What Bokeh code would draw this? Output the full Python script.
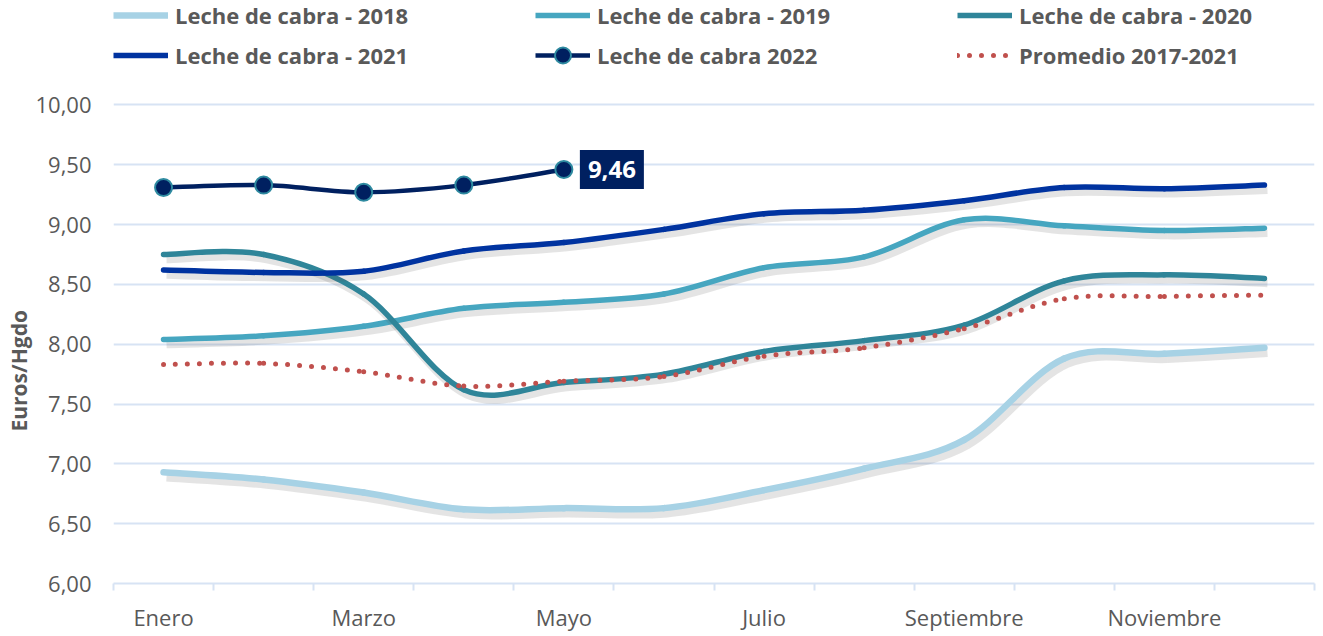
import numpy as np
from bokeh.plotting import figure
from bokeh.models import (Range1d, FixedTicker, CustomJSTickFormatter, Legend, LegendItem,
                          Label, ColumnDataSource, Title)
from bokeh.transform import dodge
from bokeh.embed import file_html
from bokeh.resources import INLINE

# ---------------- data ----------------
months = ["Enero", "Febrero", "Marzo", "Abril", "Mayo", "Junio", "Julio",
          "Agosto", "Septiembre", "Octubre", "Noviembre", "Diciembre"]
leche_2018 = [6.93, 6.87, 6.76, 6.62, 6.63, 6.63, 6.78, 6.96, 7.20, 7.88, 7.92, 7.97]
leche_2019 = [8.04, 8.07, 8.15, 8.30, 8.35, 8.42, 8.64, 8.73, 9.04, 8.99, 8.95, 8.97]
leche_2020 = [8.75, 8.75, 8.42, 7.62, 7.68, 7.75, 7.94, 8.03, 8.16, 8.53, 8.58, 8.55]
leche_2021 = [8.62, 8.60, 8.61, 8.78, 8.85, 8.96, 9.09, 9.12, 9.20, 9.31, 9.30, 9.33]
leche_2022 = [9.31, 9.33, 9.27, 9.33, 9.46]
promedio = [7.83, 7.84, 7.77, 7.65, 7.69, 7.73, 7.90, 7.97, 8.13, 8.38, 8.40, 8.41]
y_ticks = [6.0, 6.5, 7.0, 7.5, 8.0, 8.5, 9.0, 9.5, 10.0]
labels = ["Leche de cabra - 2018", "Leche de cabra - 2019", "Leche de cabra - 2020",
          "Leche de cabra - 2021", "Leche de cabra 2022", "Promedio 2017-2021"]

C18, C19, C20, C21, C22, CPR = "#A7D2E5", "#46A6C0", "#2F8599", "#0033A0", "#002060", "#C0504D"
GRID = "#D7E3F4"
TXT = "#595959"
FONT = "Open Sans"
DOT = "0 12"

# layout: axis 6..10 occupies 481 px; 105 px of headroom above it holds the legend
PLOT_PX, HEAD_PX = 481, 105


def smooth_source(ys):
    """Cubic Bezier segments (Excel-like smoothing) through the data points."""
    xs = np.arange(len(ys), dtype=float)
    ys = np.asarray(ys, dtype=float)
    n = len(ys)
    xp = np.concatenate([[xs[0]], xs, [xs[-1]]])
    yp = np.concatenate([[ys[0]], ys, [ys[-1]]])
    t = 1.0 / 6.0
    return ColumnDataSource(dict(
        x0=xs[:-1], y0=ys[:-1], x1=xs[1:], y1=ys[1:],
        cx0=xs[:-1] + (xp[2:n + 1] - xp[0:n - 1]) * t,
        cy0=ys[:-1] + (yp[2:n + 1] - yp[0:n - 1]) * t,
        cx1=xs[1:] - (xp[3:n + 2] - xp[1:n]) * t,
        cy1=ys[1:] - (yp[3:n + 2] - yp[1:n]) * t,
    ))


y0, y1 = y_ticks[0], y_ticks[-1]
p = figure(width=1316, height=634, output_backend="svg", toolbar_location=None,
           x_range=Range1d(-0.5, len(months) - 0.5),
           y_range=Range1d(y0, y1 + (y1 - y0) * HEAD_PX / PLOT_PX),
           min_border_left=113, min_border_right=2, min_border_top=0, min_border_bottom=48,
           title=None)
p.outline_line_color = None
p.background_fill_color = "white"

# axes
p.yaxis.ticker = FixedTicker(ticks=y_ticks)
p.yaxis.formatter = CustomJSTickFormatter(code="return tick.toFixed(2).replace('.', ',');")
p.yaxis.axis_line_color = None
p.yaxis.major_tick_line_color = None
p.yaxis.minor_tick_line_color = None
p.yaxis.major_label_standoff = 16
p.yaxis.major_label_text_font = FONT
p.yaxis.major_label_text_font_size = "22px"
p.yaxis.major_label_text_color = TXT

p.xaxis.ticker = FixedTicker(ticks=list(range(0, len(months), 2)),
                             minor_ticks=[i - 0.5 for i in range(len(months) + 1)])
p.xaxis.formatter = CustomJSTickFormatter(args=dict(names=months),
                                          code="return names[Math.round(tick)] || '';")
p.xaxis.axis_line_color = GRID
p.xaxis.axis_line_width = 2
p.xaxis.major_tick_line_color = None
p.xaxis.minor_tick_line_color = GRID
p.xaxis.minor_tick_line_width = 2
p.xaxis.minor_tick_in = 0
p.xaxis.minor_tick_out = 7
p.xaxis.major_label_standoff = 11
p.xaxis.major_label_text_font = FONT
p.xaxis.major_label_text_font_size = "22px"
p.xaxis.major_label_text_color = TXT

p.xgrid.grid_line_color = None
p.ygrid.ticker = FixedTicker(ticks=y_ticks)
p.ygrid.grid_line_color = GRID
p.ygrid.grid_line_width = 2

DX, DY = 0.03, -0.042


def shadowed(ys, color, width):
    src = smooth_source(ys)
    p.bezier(x0=dodge("x0", DX), y0=dodge("y0", DY), x1=dodge("x1", DX), y1=dodge("y1", DY),
             cx0=dodge("cx0", DX), cy0=dodge("cy0", DY), cx1=dodge("cx1", DX), cy1=dodge("cy1", DY),
             source=src, line_color="#555555", line_alpha=0.16, line_width=width + 2, line_cap="butt")
    p.bezier(x0="x0", y0="y0", x1="x1", y1="y1", cx0="cx0", cy0="cy0", cx1="cx1", cy1="cy1",
             source=src, line_color=color, line_width=width, line_cap="round")


shadowed(leche_2018, C18, 6.5)
shadowed(leche_2019, C19, 5.5)
shadowed(leche_2020, C20, 5.5)
shadowed(leche_2021, C21, 5.5)

src22 = smooth_source(leche_2022)
p.bezier(x0="x0", y0="y0", x1="x1", y1="y1", cx0="cx0", cy0="cy0", cx1="cx1", cy1="cy1",
         source=src22, line_color=C22, line_width=4.5)
p.scatter(x=list(range(len(leche_2022))), y=leche_2022, size=17, fill_color=C22,
          line_color="#2E8AA0", line_width=2)

srcpr = smooth_source(promedio)
p.bezier(x0="x0", y0="y0", x1="x1", y1="y1", cx0="cx0", cy0="cy0", cx1="cx1", cy1="cy1",
         source=srcpr, line_color=CPR, line_width=5, line_cap="round", line_dash=DOT)

# data label for last 2022 value
p.add_layout(Label(x=len(leche_2022) - 1, y=leche_2022[-1],
                   text=f"{leche_2022[-1]:.2f}".replace(".", ","),
                   x_offset=16, y_offset=0, text_align="left", text_baseline="middle",
                   text_font=FONT, text_font_size="24px", text_font_style="bold",
                   text_color="white", background_fill_color=C22, padding=dict(x=8, y=11)))

# y axis title (left panel, outside the tick labels)
p.add_layout(Title(text="Euros/Hgdo", align="left", offset=152, standoff=0,
                   text_font=FONT, text_font_size="21px", text_font_style="bold",
                   text_color=TXT), "left")

# legend proxies (a single undefined point each: nothing is drawn in the plot)
e = dict(x=[np.nan], y=[np.nan])
r18 = p.line(**e, line_color=C18, line_width=6.5)
r19 = p.line(**e, line_color=C19, line_width=5.5)
r20 = p.line(**e, line_color=C20, line_width=5.5)
r21 = p.line(**e, line_color=C21, line_width=5.5)
r22l = p.line(**e, line_color=C22, line_width=4.5)
r22m = p.scatter(**e, size=17, fill_color=C22, line_color="#2E8AA0", line_width=2)
rpr = p.line(**e, line_color=CPR, line_width=5, line_cap="round", line_dash=DOT)

items = [LegendItem(label=labels[0], renderers=[r18]),
         LegendItem(label=labels[1], renderers=[r19]),
         LegendItem(label=labels[2], renderers=[r20]),
         LegendItem(label=labels[3], renderers=[r21]),
         LegendItem(label=labels[4], renderers=[r22l, r22m]),
         LegendItem(label=labels[5], renderers=[rpr])]
legend = Legend(items=items, location=(0, 508), orientation="horizontal", ncols=3,
                glyph_width=55, glyph_height=40, label_standoff=7, label_width=360,
                label_height=20, spacing=0, padding=0, margin=0,
                border_line_color=None, background_fill_alpha=0,
                label_text_font=FONT, label_text_font_size="22px",
                label_text_font_style="bold", label_text_color=TXT)
p.add_layout(legend)

open("out.html", "w").write(file_html(p, INLINE))
